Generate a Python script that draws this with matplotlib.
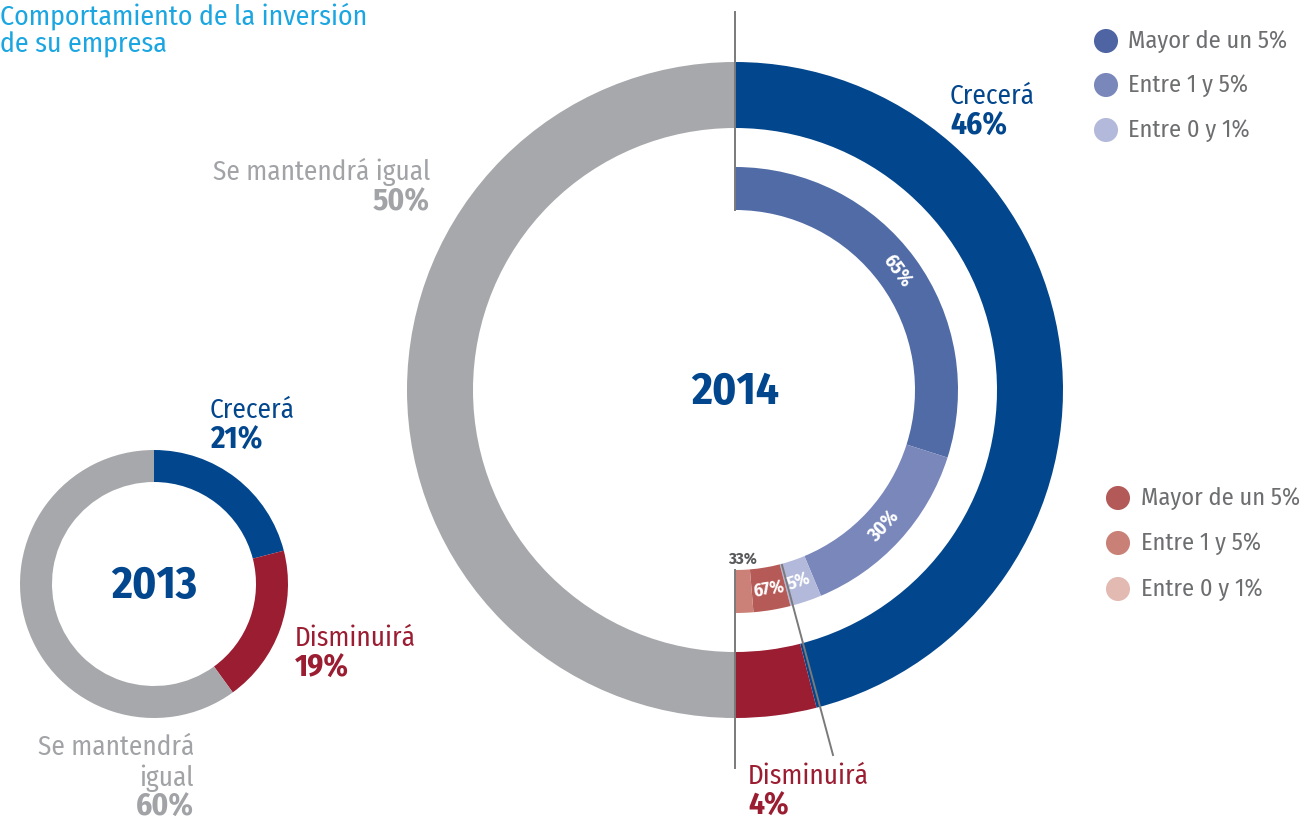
import matplotlib
matplotlib.use('Agg')
import matplotlib.pyplot as plt
import numpy as np

# datos
categorias = ['Crecerá', 'Disminuirá', 'Se mantendrá igual']
valores_2013 = [21, 19, 60]
valores_2014 = [46, 4, 50]
crecera_split = [65, 30, 5]       # Mayor de un 5%, Entre 1 y 5%, Entre 0 y 1%
disminuira_split = [67, 33]       # Mayor de un 5%, Entre 1 y 5%
leyenda = ['Mayor de un 5%', 'Entre 1 y 5%', 'Entre 0 y 1%']

plt.rcParams['font.family'] = ['Fira Sans Condensed', 'DejaVu Sans']

azul = '#02468d'
rojo = '#9b1d32'
gris = '#a7a8ab'
azules = ['#506ba5', '#7a87bb', '#b3b9da']
rojos = ['#b65a58', '#cb8177', '#e2bab2']
gris_txt = '#a1a3a6'
leyenda_txt = '#6d6e70'

H = 825
fig = plt.figure(figsize=(13.01, 8.25), dpi=100)
ax = fig.add_axes([0, 0, 1, 1])

# 2014
c14 = (735, H - 390)
ax.pie(valores_2014, radius=328, center=c14, startangle=90, counterclock=False,
       colors=[azul, rojo, gris], wedgeprops=dict(width=66, linewidth=0))
interior = [valores_2014[0] * p / 100 for p in crecera_split] + \
           [valores_2014[1] * p / 100 for p in disminuira_split] + [valores_2014[2]]
cols_int = azules + rojos[:2] + ['none']
ax.pie(interior, radius=223, center=c14, startangle=90, counterclock=False,
       colors=cols_int, wedgeprops=dict(width=43, linewidth=0))

# 2013
c13 = (154, H - 584)
ax.pie(valores_2013, radius=134, center=c13, startangle=90, counterclock=False,
       colors=[azul, rojo, gris], wedgeprops=dict(width=32, linewidth=0))

# etiquetas internas
tot = sum(interior)
acc = 0
etiq = [f'{p}%' for p in crecera_split] + [f'{p}%' for p in disminuira_split]
for i, v in enumerate(interior[:-1]):
    mid = (acc + v / 2) / tot * 360
    acc += v
    if i == 4:
        continue
    r = 202
    x = c14[0] + r * np.sin(np.radians(mid))
    y = c14[1] + r * np.cos(np.radians(mid))
    rot = -mid if mid < 90 else 180 - mid
    fs = 13 if i in (2, 3) else 14
    ax.text(x, y, etiq[i], color='white', fontsize=fs, fontweight='bold',
            rotation=rot, ha='center', va='center', rotation_mode='anchor')
ax.text(743, H - 559, etiq[4], color='#58595b', fontsize=12, fontweight='bold',
        ha='center', va='center')

# lineas guia
lc = '#7a7a7a'
ax.plot([c14[0], c14[0]], [H - 12, c14[1] + 180], color=lc, lw=1.4)
ax.plot([c14[0], c14[0]], [H - 570, H - 768], color=lc, lw=1.4)
ax.plot([782, 833], [H - 565, H - 755], color=lc, lw=1.4)

# textos centrales
ax.text(c14[0], c14[1] - 2, '2014', color=azul, fontsize=32.5, fontweight='bold',
        ha='center', va='center')
ax.text(c13[0], c13[1] - 2, '2013', color=azul, fontsize=32.5, fontweight='bold',
        ha='center', va='center')

# titulo
ax.text(0, H - 2, 'Comportamiento de la inversión\nde su empresa', color='#1ba6e1',
        fontsize=20, ha='left', va='top', linespacing=1.1)

def etiqueta(x, y, nombre, pct, color, ha='left'):
    ax.text(x, H - y, nombre, color=color, fontsize=19.5, ha=ha, va='center')
    ax.text(x, H - y - 31, pct, color=color, fontsize=22.5, fontweight='bold', ha=ha, va='center')

etiqueta(950, 96, categorias[0], f'{valores_2014[0]}%', azul)
etiqueta(430, 172, categorias[2], f'{valores_2014[2]}%', gris_txt, ha='right')
etiqueta(748, 776, categorias[1], f'{valores_2014[1]}%', rojo)
etiqueta(210, 410, categorias[0], f'{valores_2013[0]}%', azul)
etiqueta(295, 638, categorias[1], f'{valores_2013[1]}%', rojo)
ax.text(194, H - 747, 'Se mantendrá', color=gris_txt, fontsize=19.5, ha='right', va='center')
ax.text(194, H - 778, 'igual', color=gris_txt, fontsize=19.5, ha='right', va='center')
ax.text(194, H - 808, f'{valores_2013[2]}%', color=gris_txt, fontsize=22.5,
        fontweight='bold', ha='right', va='center')

# leyendas
ys_az = [41, 85, 130]
ys_ro = [498, 543, 589]
leg_az = ['#4f65a3', '#7a87bb', '#b3b9da']
leg_ro = ['#b35a59', '#c98077', '#e2bab2']
ax.scatter([1106] * 3, [H - y for y in ys_az], s=300, c=leg_az, linewidths=0)
ax.scatter([1118] * 3, [H - y for y in ys_ro], s=300, c=leg_ro, linewidths=0)
for y, t in zip(ys_az, leyenda):
    ax.text(1128, H - y, t, color=leyenda_txt, fontsize=17.5, ha='left', va='center')
for y, t in zip(ys_ro, leyenda):
    ax.text(1141, H - y, t, color=leyenda_txt, fontsize=17.5, ha='left', va='center')

ax.set_xlim(0, 1301)
ax.set_ylim(0, H)
ax.set_aspect('equal')
ax.axis('off')
fig.savefig('out.png', dpi=100)
